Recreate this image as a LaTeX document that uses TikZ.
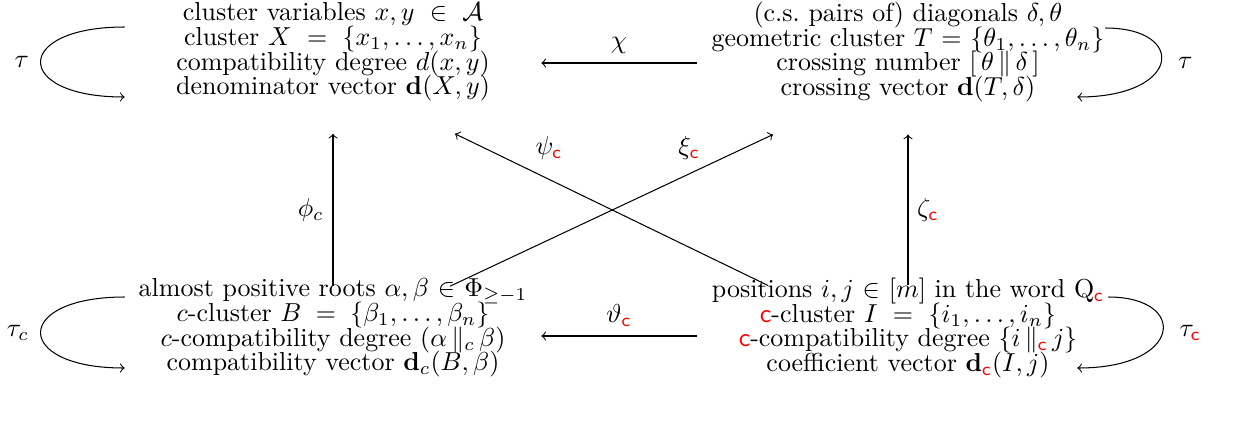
\documentclass[tikz,border=0pt]{standalone}
\usepackage{amsmath,amssymb}
\usetikzlibrary{calc}
\newcommand{\cc}{{\color{red}\mathsf{c}}}
\newcommand{\ctxt}{\textcolor{red}{\textsf{c}}}
\tikzset{
  objbox/.style={align=center, text width=160pt, inner sep=0pt,
    font=\fontsize{10pt}{9.5pt}\selectfont},
  maparr/.style={->},
  looparr/.style={->},
}

\begin{document}
\normallineskiplimit=-20pt
\lineskiplimit=-20pt
\begin{tikzpicture}[x=0.385pt, y=-0.385pt]
    \useasboundingbox (0,0) rectangle (1245,430);
    \node[objbox] (tl) at (333,52) {cluster variables $x, y \in \mathcal{A}$\\ cluster $X = \{x_1, \dots, x_n\}$\\ compatibility degree $d(x,y)$\\ denominator vector $\mathbf{d}(X,y)$};
    \node[objbox] (tr) at (908,52) {(c.s.\ pairs of) diagonals $\delta, \theta$\\ geometric cluster $T = \{\theta_1, \dots, \theta_n\}$\\ crossing number $[\,\theta \,\|\, \delta\,]$\\ crossing vector $\mathbf{d}(T,\delta)$};
    \node[objbox] (bl) at (333,328) {almost positive roots $\alpha, \beta \in \Phi_{\ge -1}$\\ $c$-cluster $B = \{\beta_1, \dots, \beta_n\}$\\ $c$-compatibility degree $(\alpha \,\|_c\, \beta)$\\ compatibility vector $\mathbf{d}_c(B,\beta)$};
    \node[objbox] (br) at (908,328) {positions $i,j \in [m]$ in the word $\mathrm{Q}_{\cc}$\\ \ctxt-cluster $I = \{i_1, \dots, i_n\}$\\ \ctxt-compatibility degree $\{i \,\|_{\cc}\, j\}$\\ coefficient vector $\mathbf{d}_{\cc}(I,j)$};

    \draw[maparr] ($(tr.west)+(-3,11)$) -- node[above] {$\chi$} ($(tl.east)+(0,11)$);
    \draw[maparr] ($(br.west)+(-3,8)$) -- node[above] {$\vartheta_{\cc}$} ($(bl.east)+(0,8)$);
    \draw[maparr] ($(bl.north)+(0,8)$) -- node[left] {$\phi_c$} ($(tl.south)+(0,32)$);
    \draw[maparr] ($(br.north)+(0,8)$) -- node[right] {$\zeta_{\cc}$} ($(tr.south)+(0,32)$);
    \draw[maparr] ($(bl.north)+(117,8)$) -- node[pos=0.74, above=2pt] {$\xi_{\cc}$} ($(tr.south)+(-135,32)$);
    \draw[maparr] ($(br.north)+(-140,8)$) -- node[pos=0.7, above=4pt] {$\psi_{\cc}$} ($(tl.south)+(122,32)$);

    \draw[looparr] ($(tl.west)+(0,-25)$) .. controls +(-112,0) and +(-112,0) .. node[left=1pt] {$\tau$} ($(tl.west)+(0,45)$);
    \draw[looparr] ($(tr.east)+(-11,-24)$) .. controls +(82,0) and +(104,0) .. node[right=3pt] {$\tau$} ($(tr.east)+(-39,45)$);
    \draw[looparr] ($(bl.west)+(0,-31)$) .. controls +(-112,0) and +(-112,0) .. node[left=1pt] {$\tau_c$} ($(bl.west)+(0,40)$);
    \draw[looparr] ($(br.east)+(-8,-31)$) .. controls +(80,0) and +(106,0) .. node[right=3pt] {$\tau_{\cc}$} ($(br.east)+(-39,40)$);
\end{tikzpicture}
\end{document}
